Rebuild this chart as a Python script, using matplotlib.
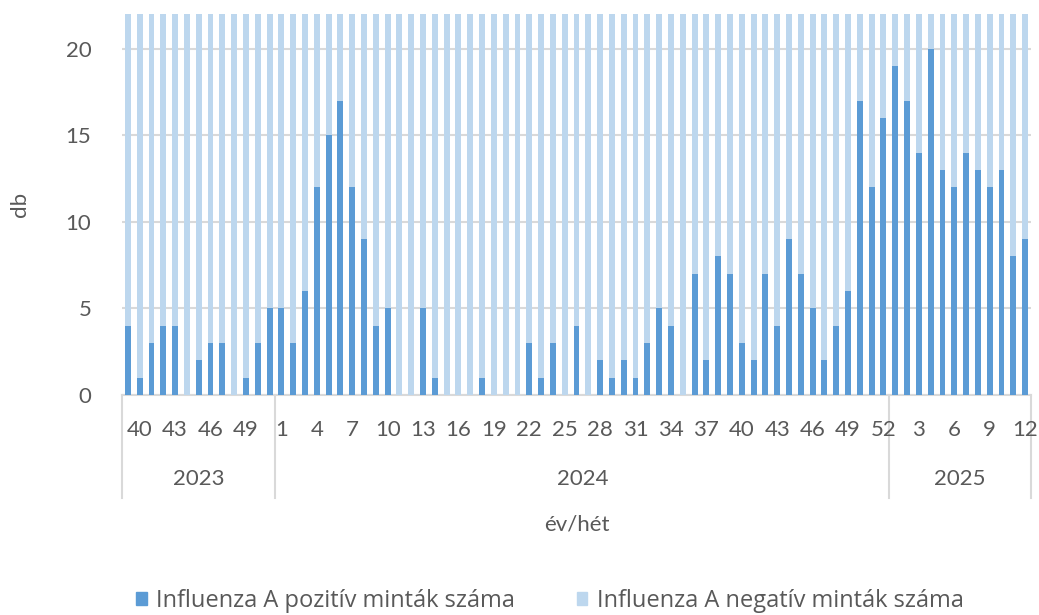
import matplotlib.pyplot as plt
import matplotlib.transforms as mtransforms
from matplotlib.patches import Patch

plt.rcParams['font.family'] = ['Lato', 'DejaVu Sans']

# weeks per season segment
weeks_2023 = list(range(39, 52))
weeks_2024 = list(range(1, 53))
weeks_2025 = list(range(1, 13))
years = ['2023', '2024', '2025']

# Influenza A positive samples per week
pos_2023 = [4, 1, 3, 4, 4, 0, 2, 3, 3, 0, 1, 3, 5]
pos_2024 = [5, 3, 6, 12, 15, 17, 12, 9, 4, 5, 0, 0, 5, 1, 0, 0, 0, 1, 0, 0,
            0, 3, 1, 3, 0, 4, 0, 2, 1, 2, 1, 3, 5, 4, 0, 7, 2, 8, 7, 3,
            2, 7, 4, 9, 7, 5, 2, 4, 6, 17, 12, 16]
pos_2025 = [19, 17, 14, 20, 13, 12, 14, 13, 12, 13, 8, 9]

# Influenza A negative samples per week (bars run past the top of the axis)
neg_2023 = [41, 38, 44, 40, 37, 42, 39, 45, 36, 40, 43, 38, 41]
neg_2024 = [44, 47, 42, 39, 45, 41, 43, 46, 40, 38, 42, 37, 41, 39, 36, 40, 35, 38, 34, 37,
            33, 36, 35, 38, 34, 37, 36, 39, 35, 38, 37, 40, 39, 41, 38, 43, 40, 42, 44, 41,
            45, 43, 46, 44, 47, 45, 48, 46, 49, 47, 50, 48]
neg_2025 = [52, 50, 53, 49, 51, 48, 50, 47, 49, 46, 48, 45]

weeks = weeks_2023 + weeks_2024 + weeks_2025
pos = pos_2023 + pos_2024 + pos_2025
neg = neg_2023 + neg_2024 + neg_2025
seg_len = [len(weeks_2023), len(weeks_2024), len(weeks_2025)]

c_pos = '#5B9BD5'
c_neg = '#BDD7EE'
c_txt = '#595959'
c_grid = '#D9D9D9'

fig = plt.figure(figsize=(10.39, 6.15), dpi=100)
ax = fig.add_axes([122 / 1039, 1 - 395 / 615, (1031 - 122) / 1039, (395 - 14) / 615])

x = list(range(len(weeks)))
ax.bar(x, pos, width=0.5, color=c_pos, zorder=3)
ax.bar(x, neg, width=0.5, bottom=pos, color=c_neg, zorder=3)

ax.set_xlim(-0.5, len(weeks) - 0.5)
ax.set_ylim(0, 22)
ax.set_yticks([0, 5, 10, 15, 20])
ax.yaxis.grid(True, color=c_grid, linewidth=1.5, zorder=0)
for s in ['top', 'right', 'left']:
    ax.spines[s].set_visible(False)
ax.spines['bottom'].set_color(c_grid)
ax.spines['bottom'].set_linewidth(1.5)
ax.tick_params(axis='y', length=0, labelsize=16, labelcolor=c_txt, pad=22)

# week labels every third category
idx = [i for i in x if i % 3 == 1]
ax.set_xticks(idx)
ax.set_xticklabels([str(weeks[i]) for i in idx])
ax.tick_params(axis='x', length=0, labelsize=16, labelcolor=c_txt, pad=18)

ax.set_ylabel('db', fontsize=16, color=c_txt, labelpad=26)

# year level of the category axis
trans = mtransforms.blended_transform_factory(ax.transData, ax.transAxes)
bounds = [-0.5]
for n in seg_len:
    bounds.append(bounds[-1] + n)
for b in bounds:
    ax.plot([b, b], [0, -0.27], transform=trans, color=c_grid, linewidth=1.5,
            clip_on=False, zorder=1)
for yr, a, b in zip(years, bounds[:-1], bounds[1:]):
    ax.text((a + b) / 2, -0.22, yr, transform=trans, ha='center', va='center',
            fontsize=16, color=c_txt)

ax.text(0.5, -0.34, 'év/hét', transform=ax.transAxes, ha='center', va='center',
        fontsize=16, color=c_txt)

handles = [Patch(color=c_pos), Patch(color=c_neg)]
fig.legend(handles, ['Influenza A pozitív minták száma', 'Influenza A negatív minták száma'],
           loc='center', bbox_to_anchor=(550 / 1039, 1 - 601 / 615), ncol=2, frameon=False,
           prop={'family': 'Open Sans', 'size': 17}, labelcolor=c_txt,
           handlelength=0.45, handleheight=0.45, handletextpad=0.4, columnspacing=2.6)

fig.savefig('out.png', dpi=100)
